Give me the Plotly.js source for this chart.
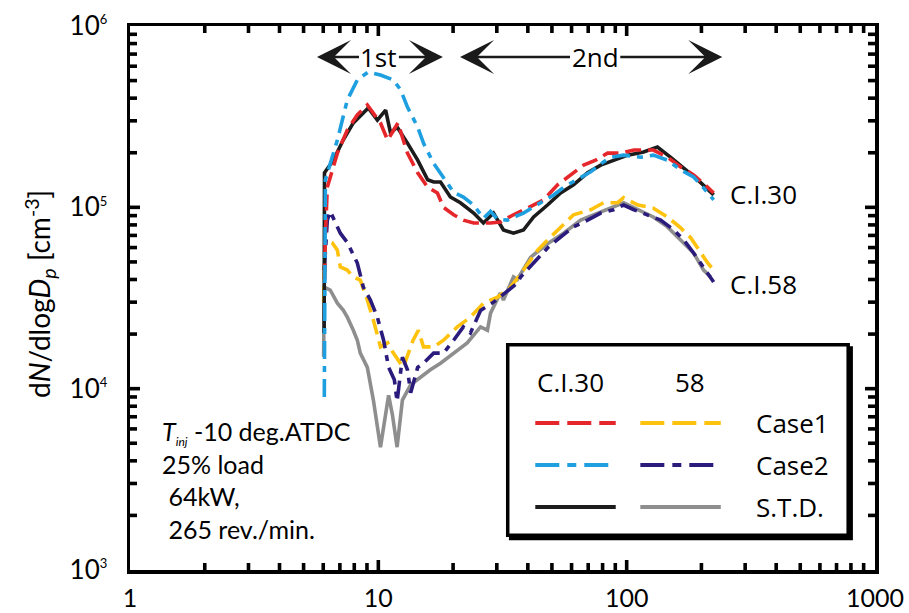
<!DOCTYPE html>
<html>
<head>
<meta charset="utf-8">
<script src="https://cdn.plot.ly/plotly-3.0.1.min.js"></script>
<style>html,body{margin:0;padding:0;background:#fff;}#chart{width:909px;height:613px;}</style>
</head>
<body>
<div id="chart"></div>
<script>
// ---- data ----
const ci30Case1X = [6.08, 6.11, 6.23, 6.84, 7.50, 8.23, 9.03, 9.55, 10.2, 10.9, 11.5, 12.0, 12.6, 13.1, 14.4, 15.8, 17.3, 18.3, 20.1, 22.0, 24.2, 28.3, 31.0, 35.0, 39.9, 46.3, 52.7, 59.5, 67.1, 75.0, 83.8, 94.6, 107, 128, 146, 165, 186, 212, 224];
const ci30Case1Y = [4.0e4, 6.5e4, 1.29e5, 1.99e5, 2.67e5, 3.23e5, 3.67e5, 3.31e5, 2.92e5, 2.35e5, 2.67e5, 2.92e5, 2.35e5, 1.99e5, 1.55e5, 1.29e5, 1.20e5, 1.0e5, 9.1e4, 8.5e4, 8.2e4, 8.2e4, 8.3e4, 9.1e4, 9.9e4, 1.10e5, 1.33e5, 1.51e5, 1.71e5, 1.82e5, 1.99e5, 1.99e5, 2.07e5, 2.07e5, 1.89e5, 1.67e5, 1.51e5, 1.29e5, 1.20e5];

const ci30Case2X = [6.06, 6.12, 6.84, 7.50, 8.23, 9.11, 10.2, 11.5, 12.3, 13.1, 14.4, 15.2, 16.7, 18.3, 20.1, 22.0, 24.2, 26.5, 28.3, 30.2, 33.1, 36.3, 38.4, 45.0, 50.8, 55.7, 63.4, 71.6, 80.7, 86.2, 97.2, 114, 128, 146, 165, 186, 204, 224];
const ci30Case2Y = [9.0e3, 1.42e5, 2.35e5, 3.91e5, 5.04e5, 5.58e5, 5.37e5, 5.04e5, 4.44e5, 3.57e5, 2.77e5, 2.26e5, 1.75e5, 1.47e5, 1.21e5, 1.14e5, 1.03e5, 8.7e4, 9.5e4, 8.6e4, 8.5e4, 9.0e4, 9.3e4, 1.06e5, 1.17e5, 1.29e5, 1.42e5, 1.57e5, 1.78e5, 1.89e5, 1.94e5, 1.89e5, 1.94e5, 1.82e5, 1.61e5, 1.47e5, 1.28e5, 1.10e5];

const ci30StdX = [6.05, 6.07, 6.59, 7.22, 7.93, 8.70, 9.11, 9.91, 10.7, 11.2, 11.9, 13.1, 14.4, 15.8, 16.7, 17.8, 19.5, 21.4, 24.2, 26.5, 29.1, 31.9, 35.0, 38.4, 42.2, 48.0, 54.2, 61.1, 69.6, 78.6, 88.6, 101, 117, 133, 150, 170, 193, 224];
const ci30StdY = [2.03e4, 1.55e5, 1.82e5, 2.35e5, 2.92e5, 3.31e5, 3.53e5, 3.03e5, 3.44e5, 2.57e5, 2.77e5, 2.26e5, 1.82e5, 1.42e5, 1.38e5, 1.38e5, 1.14e5, 1.06e5, 9.3e4, 8.2e4, 9.3e4, 7.5e4, 7.2e4, 7.5e4, 8.85e4, 1.03e5, 1.20e5, 1.33e5, 1.55e5, 1.71e5, 1.82e5, 1.94e5, 2.02e5, 2.15e5, 1.89e5, 1.65e5, 1.42e5, 1.17e5];

const ci58Case1X = [6.02, 6.11, 6.53, 6.84, 7.03, 7.50, 7.93, 8.46, 9.03, 9.55, 10.2, 10.9, 11.5, 12.6, 13.8, 14.5, 15.2, 16.7, 18.3, 20.8, 23.5, 26.5, 30.2, 34.1, 38.4, 43.8, 48.0, 54.2, 61.1, 71.6, 80.7, 92.0, 97.2, 111, 128, 146, 165, 181, 199, 212, 224];
const ci58Case1Y = [3.0e4, 6.6e4, 6.36e4, 5.8e4, 4.69e4, 4.51e4, 4.13e4, 3.97e4, 3.08e4, 2.39e4, 1.70e4, 1.79e4, 1.57e4, 1.31e4, 1.85e4, 2.10e4, 1.70e4, 1.70e4, 1.85e4, 2.19e4, 2.48e4, 2.96e4, 3.20e4, 3.63e4, 4.51e4, 5.8e4, 6.6e4, 7.8e4, 9.1e4, 9.7e4, 1.06e5, 1.06e5, 1.13e5, 1.03e5, 9.9e4, 8.85e4, 7.7e4, 6.8e4, 5.6e4, 4.93e4, 4.51e4];

const ci58Case2X = [6.06, 6.23, 6.40, 7.03, 7.50, 8.23, 8.70, 9.29, 9.91, 10.5, 11.0, 11.6, 11.9, 12.5, 13.1, 13.5, 14.4, 15.2, 16.7, 18.3, 20.1, 22.0, 23.5, 25.8, 29.1, 33.1, 36.3, 37.4, 42.2, 48.0, 54.2, 61.1, 69.6, 78.6, 88.6, 97.2, 107, 122, 137, 155, 170, 186, 204, 224];
const ci58Case2Y = [4.5e4, 8.5e4, 9.5e4, 7.2e4, 6.4e4, 4.93e4, 3.63e4, 3.08e4, 2.48e4, 1.85e4, 1.31e4, 1.12e4, 8.5e3, 1.49e4, 1.27e4, 9.5e3, 1.31e4, 1.38e4, 1.57e4, 1.57e4, 1.85e4, 2.19e4, 2.03e4, 2.7e4, 3.0e4, 3.45e4, 3.82e4, 4.13e4, 4.93e4, 5.97e4, 6.86e4, 7.8e4, 8.5e4, 9.3e4, 9.7e4, 1.03e5, 9.7e4, 9.1e4, 8.5e4, 7.5e4, 6.6e4, 5.6e4, 4.69e4, 3.87e4];

const ci58StdX = [6.02, 6.06, 6.40, 6.84, 7.22, 7.50, 7.93, 8.23, 8.46, 9.03, 9.55, 10.2, 11.0, 11.4, 11.9, 12.5, 13.5, 14.8, 16.2, 17.8, 20.1, 22.8, 25.8, 27.5, 28.3, 31.0, 31.9, 35.0, 36.3, 41.0, 48.0, 55.7, 65.3, 76.4, 86.2, 97.2, 111, 128, 146, 165, 186, 204, 218];
const ci58StdY = [1.5e4, 3.63e4, 3.5e4, 2.96e4, 2.71e4, 2.48e4, 2.10e4, 1.85e4, 1.57e4, 1.31e4, 8.65e3, 4.76e3, 9.2e3, 7.15e3, 4.76e3, 8.65e3, 1.05e4, 1.16e4, 1.27e4, 1.38e4, 1.57e4, 1.79e4, 2.19e4, 2.10e4, 2.61e4, 3.37e4, 3.08e4, 4.13e4, 4.0e4, 5.3e4, 6.3e4, 7.2e4, 8.5e4, 9.3e4, 9.9e4, 1.06e5, 9.7e4, 8.85e4, 7.8e4, 6.6e4, 5.6e4, 4.51e4, 4.13e4];

const xTickVals = [1, 10, 100, 1000];
const xTickText = ['1', '10', '100', '1000'];
const yTickVals = [1e3, 1e4, 1e5, 1e6];
const yTickText = ['3', '4', '5', '6'];
const xMinorVals = [2,3,4,5,6,7,8,9, 20,30,40,50,60,70,80,90, 200,300,400,500,600,700,800,900];
const yMinorVals = [2e3,3e3,4e3,5e3,6e3,7e3,8e3,9e3, 2e4,3e4,4e4,5e4,6e4,7e4,8e4,9e4, 2e5,3e5,4e5,5e5,6e5,7e5,8e5,9e5];
const xInnerMajor = [10, 100];
const yInnerMajor = [1e4, 1e5];
const legendHeaders = ['C.I.30', '58'];
const legendRows = ['Case1', 'Case2', 'S.T.D.'];

// ---- styles ----
const X_RANGE = [0, 3], Y_RANGE = [3, 6];   // log10 axis ranges
const PLOT_W = 745, PLOT_H = 544;           // plot area in px
const FONT = 'Lato, "Open Sans", sans-serif';
const FONT2 = '"Open Sans", Lato, sans-serif';
const COL = {red:'#e5262b', blue:'#1d9fe0', black:'#1c1c1c', gold:'#ffc20e', navy:'#2b1b7c', gray:'#8e8e8e'};
const DASH1 = '16px,7px';
const DASH2 = '18px,7px,6px,7px';
const LW = 3.6;

function tr(x, y, color, dash){
  return {x:x, y:y, type:'scatter', mode:'lines', showlegend:false, hoverinfo:'skip',
          line:{color:color, width:LW, dash:dash}};
}

// inside tick marks on all four sides, as line segments in data space
function tickTrace(xv, yv, lenPx, width){
  const fxl = Math.pow(10, lenPx * (X_RANGE[1]-X_RANGE[0]) / PLOT_W);
  const fyl = Math.pow(10, lenPx * (Y_RANGE[1]-Y_RANGE[0]) / PLOT_H);
  const xlo = Math.pow(10, X_RANGE[0]), xhi = Math.pow(10, X_RANGE[1]);
  const ylo = Math.pow(10, Y_RANGE[0]), yhi = Math.pow(10, Y_RANGE[1]);
  const X = [], Y = [];
  xv.forEach(v=>{ X.push(v, v, null, v, v, null); Y.push(ylo, ylo*fyl, null, yhi, yhi/fyl, null); });
  yv.forEach(v=>{ X.push(xlo, xlo*fxl, null, xhi, xhi/fxl, null); Y.push(v, v, null, v, v, null); });
  return {x:X, y:Y, type:'scatter', mode:'lines', connectgaps:false, showlegend:false, hoverinfo:'skip',
          line:{color:'#000', width:width}, cliponaxis:false};
}

const data = [
  tr(ci58StdX, ci58StdY, COL.gray, 'solid'),
  tr(ci58Case1X, ci58Case1Y, COL.gold, DASH1),
  tr(ci58Case2X, ci58Case2Y, COL.navy, DASH2),
  tr(ci30StdX, ci30StdY, COL.black, 'solid'),
  tr(ci30Case1X, ci30Case1Y, COL.red, DASH1),
  tr(ci30Case2X, ci30Case2Y, COL.blue, DASH2),
  tickTrace(xMinorVals, yMinorVals, 7, 3.6),
  tickTrace(xInnerMajor, yInnerMajor, 10, 3.6)
];

const annotations = [];
const tfont = {family:FONT2, size:26, color:'#000'};
annotations.push({xref:'paper', yref:'paper', x:0.803, y:0.692, xanchor:'left', yanchor:'middle', text:'C.I.30', showarrow:false, font:tfont});
annotations.push({xref:'paper', yref:'paper', x:0.803, y:0.526, xanchor:'left', yanchor:'middle', text:'C.I.58', showarrow:false, font:tfont});
function modeArrow(label, headX, dx, visible){
  return {xref:'paper', yref:'paper', x:headX, y:0.943, ax:dx, ay:0, axref:'pixel', ayref:'pixel',
    text:label, showarrow:true, arrowhead:3, arrowsize:2.1, arrowwidth:2.7, arrowcolor:'#1a1a1a',
    font:{family:FONT2, size:26, color: visible ? '#000' : 'rgba(0,0,0,0)'}, borderpad:1};
}
annotations.push(modeArrow('1st', 0.251, 62, true));
annotations.push(modeArrow('1st', 0.420, -64, false));
annotations.push(modeArrow('2nd', 0.443, 135, true));
annotations.push(modeArrow('2nd', 0.795, -127, false));
annotations.push({xref:'paper', yref:'paper', x:0.040, y:0.165, xanchor:'left', yanchor:'middle', align:'left', showarrow:false,
  text:'<i>T</i><sub><span style="font-size:12px"><i>inj</i></span></sub> -10 deg.ATDC<br>25% load<br>&nbsp;64kW,<br>&nbsp;265 rev./min.',
  font:{family:FONT, size:25, color:'#000'}});
annotations.push({xref:'paper', yref:'paper', x:-0.121, y:0.507, xanchor:'center', yanchor:'middle', textangle:-90, showarrow:false,
  text:'d<i>N</i>/dlog<i>D</i><sub><i>p</i></sub> [cm<sup>-3</sup>]', font:{family:FONT, size:28, color:'#000'}});

// legend (drawn manually: two columns)
const shapes = [];
const lgX0 = 0.507, lgX1 = 0.964, lgY0 = 0.064, lgY1 = 0.414;
shapes.push({type:'rect', xref:'paper', yref:'paper', x0:lgX0+0.004, x1:lgX1+0.004, y0:lgY0-0.006, y1:lgY1-0.006, line:{color:'#000', width:3.5}, fillcolor:'#000', layer:'above'});
shapes.push({type:'rect', xref:'paper', yref:'paper', x0:lgX0, x1:lgX1, y0:lgY0, y1:lgY1, line:{color:'#000', width:3.5}, fillcolor:'#fff', layer:'above'});
const headerX = [0.591, 0.752];
legendHeaders.forEach((h,i)=>annotations.push({xref:'paper', yref:'paper', x:headerX[i], y:0.346, xanchor:'center', yanchor:'middle', text:h, showarrow:false, font:tfont}));
const rowY = [0.270, 0.193, 0.116];
const rowStyles = [
  [[COL.red, '24px,8px'], [COL.gold, '24px,8px']],
  [[COL.blue, '24px,8px,9px,8px'], [COL.navy, '24px,8px,9px,8px']],
  [[COL.black, 'solid'], [COL.gray, 'solid']]
];
const colX = [[0.544, 0.652], [0.685, 0.793]];
legendRows.forEach((r,i)=>{
  for(let c=0;c<2;c++){
    const st = rowStyles[i][c];
    shapes.push({type:'line', xref:'paper', yref:'paper', x0:colX[c][0], x1:colX[c][1], y0:rowY[i], y1:rowY[i],
      line:{color:st[0], width:4, dash:st[1]}, layer:'above'});
  }
  annotations.push({xref:'paper', yref:'paper', x:0.838, y:rowY[i], xanchor:'left', yanchor:'middle', text:r, showarrow:false, font:tfont});
});

const baseAxis = {type:'log', showgrid:false, zeroline:false, mirror:'allticks', ticks:'inside', ticklen:9, tickwidth:3, tickcolor:'#000',
  showline:true, linecolor:'#000', linewidth:3.5};

const layout = {
  width:909, height:613,
  margin:{l:130, r:34, t:26, b:43},
  paper_bgcolor:'#fff', plot_bgcolor:'#fff',
  showlegend:false,
  xaxis: Object.assign({}, baseAxis, {range:X_RANGE, tickmode:'array', tickvals:xTickVals, ticktext:xTickText,
    ticklabelstandoff:3, tickfont:{family:FONT, size:25, color:'#000'}}),
  yaxis: Object.assign({}, baseAxis, {range:Y_RANGE, tickmode:'array', tickvals:yTickVals,
    ticktext:yTickText.map(e=>'10<sup><span style="font-size:13px">'+e+'</span></sup>'),
    ticklabelstandoff:14, tickfont:{family:FONT, size:26, color:'#000'}}),
  annotations: annotations,
  shapes: shapes
};

Plotly.newPlot('chart', data, layout, {staticPlot:true, displayModeBar:false});
</script>
</body>
</html>
